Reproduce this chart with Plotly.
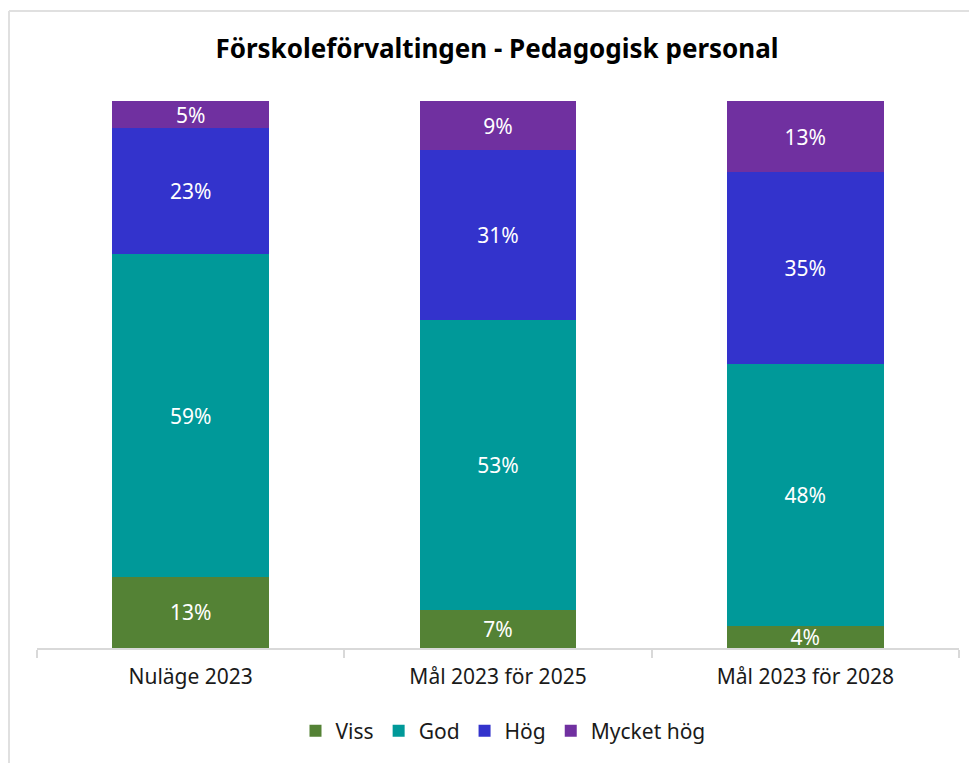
import plotly.graph_objects as go

categories = ["Nuläge 2023", "Mål 2023 för 2025", "Mål 2023 för 2028"]
series_names = ["Viss", "God", "Hög", "Mycket hög"]
viss = [13, 7, 4]
god = [59, 53, 48]
hog = [23, 31, 35]
mycket_hog = [5, 9, 13]
colors = ["#548235", "#009999", "#3333CC", "#7030A0"]

# page has an 8px body margin; work in page coordinates minus the offset
OFF = 8
W, H = 977 - OFF, 763 - OFF
ml, mr, mt, mb = 37 - OFF, 977 - 959, 101 - OFF, 763 - 648

fig = go.Figure()
for name, vals, col in zip(series_names, [viss, god, hog, mycket_hog], colors):
    fig.add_trace(go.Bar(
        x=categories, y=vals, name=name,
        marker=dict(color=col, line=dict(width=0)),
        text=[f"{v}%" for v in vals], textposition="inside",
        insidetextanchor="middle", constraintext="none",
        textfont=dict(color="white", size=21, family="Noto Sans"),
        hoverinfo="skip",
    ))

pw = W - ml - mr
ph = H - mt - mb
fig.update_layout(
    width=W, height=H,
    barmode="stack", bargap=0.49,
    margin=dict(l=ml, r=mr, t=mt, b=mb),
    paper_bgcolor="white", plot_bgcolor="white",
    title=dict(text="<b>Förskoleförvaltingen - Pedagogisk personal</b>",
               x=(497 - OFF) / W, xanchor="center", y=1 - (49 - OFF) / H, yanchor="middle",
               font=dict(size=26, color="black", family="Noto Sans")),
    font=dict(family="Noto Sans", color="#1a1a1a"),
    showlegend=True,
    legend=dict(orientation="h", x=(503 - 37) / pw, xanchor="center", y=-(731 - 648) / ph, yanchor="middle",
                font=dict(size=21, color="#1a1a1a"), traceorder="normal",
                itemwidth=30, tracegroupgap=0),
)
fig.update_xaxes(showline=True, linecolor="#d9d9d9", linewidth=2,
                 ticks="outside", tickson="boundaries", ticklen=8, tickcolor="#d9d9d9", tickwidth=2,
                 ticklabelstandoff=9,
                 tickfont=dict(size=21, color="#1a1a1a"), showgrid=False, fixedrange=True)
fig.update_yaxes(range=[0, 100], visible=False, showgrid=False)

# outer border (light grey)
x_left = (9 - 37) / pw
y_top = 1 + (101 - 11) / ph
fig.add_shape(type="line", xref="paper", yref="paper", x0=x_left, x1=1.2,
              y0=y_top, y1=y_top, line=dict(color="#e0e0e0", width=2))
fig.add_shape(type="line", xref="paper", yref="paper", x0=x_left, x1=x_left,
              y0=y_top, y1=-(mb + 5) / ph, line=dict(color="#e0e0e0", width=2))

fig.write_html("out.html")
